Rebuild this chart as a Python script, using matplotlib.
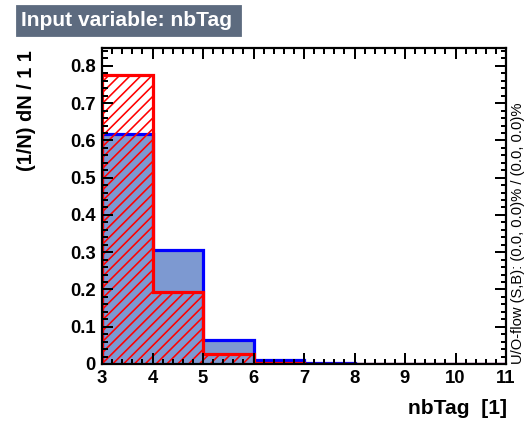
import matplotlib
matplotlib.use('Agg')
import matplotlib.pyplot as plt
from matplotlib.ticker import MultipleLocator
from matplotlib.patches import Rectangle

# bin edges and normalised contents
edges = [3, 4, 5, 6, 7, 8, 9, 10, 11]
signal = [0.618, 0.307, 0.064, 0.010, 0.002, 0.0, 0.0, 0.0]
background = [0.776, 0.193, 0.027, 0.004, 0.001, 0.0, 0.0, 0.0]

title = 'Input variable: nbTag'
xlab = 'nbTag  [1]'
ylab = '(1/N) dN / 1 1'
oflow = 'U/O-flow (S,B): (0.0, 0.0)% / (0.0, 0.0)%'

DPI = 130
W, H = 526, 424


def pt(px):
    # pixel size -> points at this dpi
    return px * 72.0 / DPI


plt.rcParams['font.family'] = ['Liberation Sans', 'DejaVu Sans']
plt.rcParams['hatch.linewidth'] = pt(1.6)
plt.rcParams['hatch.color'] = 'red'

fig = plt.figure(figsize=(W / DPI, H / DPI), dpi=DPI)
ax = fig.add_axes([102 / W, 1 - 364 / H, 404 / W, 316 / H])

ax.stairs(signal, edges, fill=True, color='#7d99d1', linewidth=0)
ax.stairs(signal, edges, color='blue', linewidth=pt(3.2), baseline=0)
ax.stairs(background, edges, fill=True, facecolor='none', edgecolor='red',
          hatch='////', linewidth=0)
ax.stairs(background, edges, color='red', linewidth=pt(3.2), baseline=0)

ax.set_xlim(3, 11)
ax.set_ylim(0, 0.848)
ax.xaxis.set_major_locator(MultipleLocator(1))
ax.xaxis.set_minor_locator(MultipleLocator(0.2))
ax.yaxis.set_major_locator(MultipleLocator(0.1))
ax.yaxis.set_minor_locator(MultipleLocator(0.02))
ax.yaxis.set_major_formatter(lambda v, p: '0' if abs(v) < 1e-9 else '%.1f' % v)

ax.tick_params(which='both', direction='in', top=True, right=True,
               width=pt(2), labelsize=pt(18.5), pad=pt(6))
ax.tick_params(which='major', length=pt(11))
ax.tick_params(which='minor', length=pt(5.5))
for lab in ax.get_xticklabels() + ax.get_yticklabels():
    lab.set_fontweight('bold')
for s in ax.spines.values():
    s.set_linewidth(pt(2.2))

fig.text(26 / W, 1 - 50 / H, ylab, rotation=90, ha='center', va='top',
         fontsize=pt(20), fontweight='bold')
fig.text(507 / W, 1 - 408 / H, xlab, ha='right', va='center',
         fontsize=pt(21), fontweight='bold')
fig.text(518 / W, 1 - 364 / H, oflow, rotation=90, ha='center', va='bottom',
         fontsize=pt(14.8))

# title box
fig.patches.append(Rectangle((17 / W, 1 - 36 / H), 224 / W, 30 / H,
                             transform=fig.transFigure, color='#5d6b7f'))
fig.text(21 / W, 1 - 21 / H, title, ha='left', va='center', color='white',
         fontsize=pt(21), fontweight='bold')

fig.savefig('out.png', dpi=DPI)
